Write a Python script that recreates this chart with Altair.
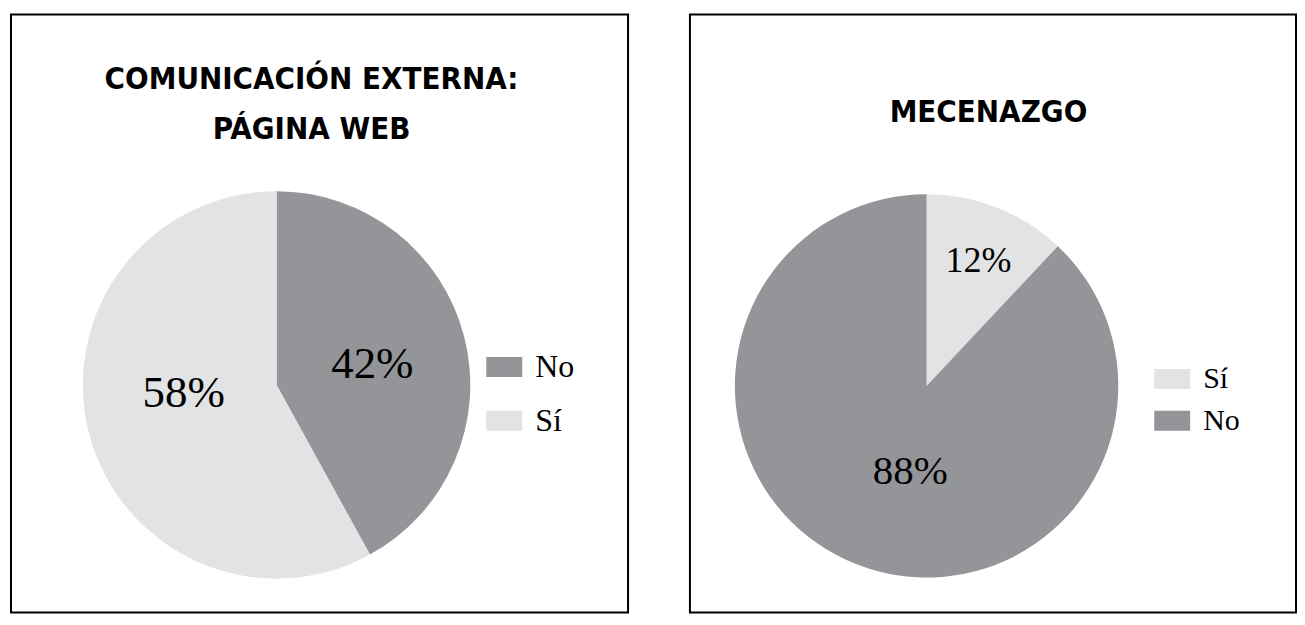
import altair as alt
import pandas as pd

# ---- data ----
web_categories = ["No", "Sí"]
web_values = [42, 58]
web_labels = ["42%", "58%"]
web_title = ["COMUNICACIÓN EXTERNA:\nPÁGINA WEB"]

mec_categories = ["Sí", "No"]
mec_values = [12, 88]
mec_labels = ["12%", "88%"]
mec_title = ["MECENAZGO"]

colors = {"No": "#939598", "Sí": "#e2e3e4"}

SERIF = "Liberation Serif, Times New Roman, serif"
TITLE_FONT = "Liberation Sans Narrow, Arial Narrow, DejaVu Sans Condensed, sans-serif"
SWATCH = "M-1,-0.556H1V0.556H-1Z"


def panel(cats, vals, labels, title, cx, cy, r, label_pos, legend_xy, row_pad,
          legend_font, title_xy, width, label_sizes):
    df = pd.DataFrame({"cat": cats, "val": vals, "lab": labels,
                       "rank": list(range(len(cats)))})
    base = alt.Chart(df)
    color = alt.Color(
        "cat:N",
        scale=alt.Scale(domain=cats, range=[colors[c] for c in cats]),
        legend=alt.Legend(
            title=None, orient="none", legendX=legend_xy[0], legendY=legend_xy[1],
            symbolType=SWATCH, symbolSize=1296, symbolStrokeWidth=0,
            symbolOpacity=1, labelFont=SERIF, labelFontSize=legend_font,
            labelColor="black", labelOffset=13, rowPadding=row_pad, padding=0,
        ),
    )
    arcs = base.mark_arc(radius=r, stroke=None).encode(
        theta=alt.Theta("val:Q", stack=True),
        color=color,
        order=alt.Order("rank:Q"),
        x=alt.value(cx), y=alt.value(cy),
    )
    layers = [arcs]
    for cat, (rad, dx, dy), fs in zip(cats, label_pos, label_sizes):
        layers.append(
            base.mark_text(radius=rad, dx=dx, dy=dy, font=SERIF, fontSize=fs,
                           color="black", align="center", baseline="middle")
            .encode(theta=alt.Theta("val:Q", stack=True), order=alt.Order("rank:Q"),
                    text="lab:N", x=alt.value(cx), y=alt.value(cy),
                    opacity=alt.condition(alt.datum.cat == cat, alt.value(1), alt.value(0)))
        )
    tdf = pd.DataFrame({"t": title})
    layers.append(
        alt.Chart(tdf).mark_text(font=TITLE_FONT, fontSize=31, fontWeight="bold",
                                 color="black", align="center", baseline="middle",
                                 lineBreak="\n", lineHeight=50)
        .encode(text="t:N", x=alt.value(title_xy[0]), y=alt.value(title_xy[1]))
    )
    return alt.layer(*layers).properties(width=width, height=599)


left = panel(web_categories, web_values, web_labels, web_title,
             266, 371, 194,
             [(98, 1, 3), (96, 0, -16)],
             (476, 335), 20, 32, (301, 66), 618, [45, 45])
right = panel(mec_categories, mec_values, mec_labels, mec_title,
              237, 372, 192,
              [(133, 3, -1), (93, 18, 0)],
              (465, 347), 9, 30, (299, 99), 607, [36, 41])

chart = (
    alt.hconcat(left, right, spacing=60)
    .resolve_scale(color="independent", theta="independent")
    .configure_view(stroke="black", strokeWidth=2)
    .properties(padding={"left": 2, "top": 5, "right": 0, "bottom": 0})
)

chart.save("out.html", embed_options={"renderer": "svg", "actions": False})
